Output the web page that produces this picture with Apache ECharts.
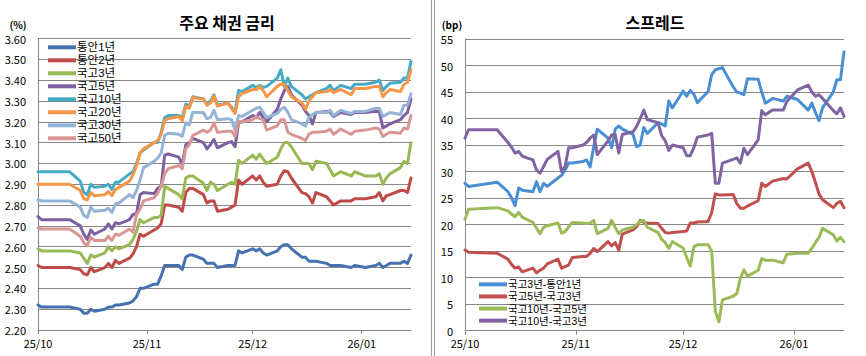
<!DOCTYPE html>
<html>
<head>
<meta charset="utf-8">
<script src="https://cdn.jsdelivr.net/npm/echarts@6/dist/echarts.min.js"></script>
<style>html,body{margin:0;padding:0;background:#fff}#c{width:866px;height:356px}</style>
</head>
<body>
<div id="c"></div>
<script>
// ---- data ----
const dates = ['2025-10-01','2025-10-02','2025-10-10','2025-10-13','2025-10-14','2025-10-15','2025-10-16','2025-10-17','2025-10-20','2025-10-21','2025-10-22','2025-10-23','2025-10-24','2025-10-27','2025-10-28','2025-10-29','2025-10-30','2025-10-31',
'2025-11-03','2025-11-04','2025-11-05','2025-11-06','2025-11-07','2025-11-10','2025-11-11','2025-11-12','2025-11-13','2025-11-14','2025-11-17','2025-11-18','2025-11-19','2025-11-20','2025-11-21','2025-11-24','2025-11-25','2025-11-26','2025-11-27','2025-11-28',
'2025-12-01','2025-12-02','2025-12-03','2025-12-04','2025-12-05','2025-12-08','2025-12-09','2025-12-10','2025-12-11','2025-12-12','2025-12-15','2025-12-16','2025-12-17','2025-12-18','2025-12-19','2025-12-22','2025-12-23','2025-12-24','2025-12-26','2025-12-29','2025-12-30',
'2026-01-02','2026-01-05','2026-01-06','2026-01-07','2026-01-08','2026-01-09','2026-01-12','2026-01-13','2026-01-14','2026-01-15'];

const rateNames = ['통안1년','통안2년','국고3년','국고5년','국고10년','국고20년','국고30년','국고50년'];
const spreadNames = ['국고3년-통안1년','국고5년-국고3년','국고10년-국고5년','국고10년-국고3년'];

const msb1y = [2.32,2.31,2.31,2.30,2.28,2.28,2.30,2.29,2.30,2.31,2.31,2.32,2.32,2.33,2.34,2.36,2.40,2.40,
2.42,2.42,2.46,2.51,2.51,2.51,2.49,2.55,2.56,2.56,2.54,2.52,2.52,2.52,2.50,2.51,2.51,2.51,2.58,2.57,
2.59,2.58,2.59,2.57,2.56,2.58,2.60,2.61,2.61,2.59,2.55,2.55,2.53,2.53,2.53,2.52,2.51,2.51,2.51,2.50,2.51,
2.50,2.51,2.52,2.50,2.51,2.52,2.52,2.53,2.52,2.56];
const msb2y = [2.51,2.50,2.50,2.49,2.47,2.465,2.50,2.48,2.50,2.52,2.50,2.535,2.52,2.545,2.565,2.60,2.66,2.65,
2.68,2.69,2.71,2.80,2.80,2.79,2.77,2.86,2.88,2.88,2.85,2.81,2.82,2.82,2.77,2.78,2.79,2.80,2.92,2.90,
2.94,2.92,2.94,2.91,2.89,2.90,2.94,2.965,2.96,2.93,2.86,2.855,2.84,2.81,2.86,2.84,2.82,2.80,2.82,2.82,2.83,
2.83,2.84,2.86,2.82,2.845,2.85,2.87,2.87,2.86,2.93];
const ktb3y = [2.59,2.58,2.58,2.57,2.545,2.52,2.56,2.55,2.57,2.60,2.58,2.60,2.59,2.61,2.635,2.675,2.73,2.715,
2.74,2.74,2.75,2.89,2.88,2.85,2.83,2.93,2.94,2.94,2.905,2.87,2.91,2.90,2.87,2.90,2.91,2.90,3.015,3.00,
3.04,3.02,3.045,3.02,3.00,3.03,3.07,3.10,3.10,3.08,3.00,3.00,3.00,2.97,3.01,3.00,2.97,2.94,2.96,2.94,2.96,
2.94,2.94,2.95,2.90,2.93,2.95,2.98,3.01,3.00,3.10];
const ktb5y = [2.745,2.73,2.73,2.70,2.66,2.635,2.68,2.66,2.685,2.71,2.685,2.715,2.71,2.73,2.755,2.76,2.85,2.86,
2.855,2.88,2.89,3.04,3.045,3.03,2.995,3.09,3.10,3.12,3.10,3.07,3.09,3.115,3.075,3.10,3.105,3.08,3.195,3.20,
3.23,3.22,3.245,3.22,3.20,3.26,3.31,3.35,3.37,3.33,3.28,3.25,3.23,3.19,3.245,3.25,3.245,3.225,3.245,3.235,3.245,
3.245,3.25,3.25,3.17,3.18,3.19,3.21,3.23,3.245,3.31];
const ktb10y = [2.96,2.96,2.96,2.915,2.86,2.85,2.90,2.885,2.89,2.90,2.875,2.91,2.91,2.95,2.96,3.00,3.05,3.065,
3.10,3.10,3.15,3.22,3.23,3.23,3.22,3.285,3.275,3.32,3.31,3.285,3.30,3.33,3.28,3.29,3.27,3.245,3.35,3.345,
3.375,3.365,3.375,3.365,3.37,3.41,3.45,3.37,3.41,3.37,3.33,3.31,3.32,3.33,3.34,3.36,3.375,3.35,3.375,3.36,3.38,
3.38,3.39,3.40,3.35,3.37,3.385,3.39,3.41,3.41,3.49];
const ktb20y = [2.90,2.90,2.90,2.87,2.83,2.825,2.86,2.845,2.85,2.865,2.845,2.875,2.885,2.915,2.945,2.99,3.05,3.07,
3.10,3.11,3.14,3.205,3.215,3.225,3.205,3.275,3.265,3.315,3.31,3.28,3.29,3.325,3.275,3.29,3.265,3.24,3.32,3.335,
3.355,3.355,3.37,3.35,3.32,3.37,3.38,3.38,3.35,3.32,3.29,3.26,3.30,3.32,3.34,3.345,3.355,3.34,3.355,3.33,3.36,
3.36,3.37,3.37,3.32,3.34,3.355,3.345,3.38,3.39,3.45];
const ktb30y = [2.825,2.82,2.82,2.79,2.75,2.74,2.79,2.77,2.775,2.785,2.765,2.805,2.81,2.85,2.835,2.87,2.92,2.98,
3.01,3.025,3.05,3.135,3.145,3.14,3.13,3.195,3.185,3.245,3.245,3.215,3.22,3.255,3.21,3.215,3.21,3.16,3.23,3.225,
3.255,3.265,3.27,3.245,3.22,3.24,3.26,3.27,3.245,3.21,3.19,3.18,3.22,3.235,3.245,3.245,3.255,3.23,3.255,3.24,3.25,
3.25,3.265,3.265,3.225,3.235,3.245,3.235,3.28,3.28,3.335];
const ktb50y = [2.69,2.685,2.685,2.65,2.62,2.605,2.645,2.63,2.63,2.65,2.63,2.66,2.655,2.685,2.67,2.755,2.78,2.82,
2.835,2.856,2.89,2.95,2.975,2.99,2.975,3.07,3.09,3.135,3.16,3.15,3.16,3.195,3.15,3.155,3.155,3.13,3.20,3.20,
3.21,3.225,3.215,3.21,3.16,3.18,3.21,3.21,3.15,3.14,3.12,3.11,3.14,3.15,3.15,3.155,3.165,3.14,3.165,3.14,3.155,
3.16,3.17,3.165,3.13,3.14,3.15,3.145,3.17,3.165,3.23];

const sp3y1y = [27.8,27.2,28.0,26.2,25.1,23.6,26.9,26.5,26.2,28.1,26.2,27.8,27.2,28.8,29.3,30.3,31.6,31.6,
31.9,32.2,30.9,34.7,38.0,36.3,34.5,38.0,38.6,38.0,37.0,34.7,35.0,38.3,37.2,39.2,39.0,38.6,43.3,42.0,
45.2,44.2,45.3,44.6,43.0,45.1,48.3,49.2,49.4,49.6,46.0,45.0,44.8,44.5,47.5,47.4,45.0,42.9,43.8,43.3,44.2,
43.6,41.6,42.9,41.2,39.6,42.0,45.0,47.3,47.3,52.6];
const sp5y3y = [15.2,14.8,14.6,13.5,12.5,11.8,12.0,11.1,11.8,10.9,11.4,11.8,12.6,13.5,11.8,12.1,12.4,13.8,
14.0,14.0,14.6,15.5,14.9,16.8,16.0,16.6,15.2,18.2,19.0,19.6,20.8,20.4,20.3,20.2,19.3,18.5,18.4,18.5,
18.7,18.8,20.3,20.3,20.5,20.6,22.3,25.8,25.6,25.6,25.7,24.0,23.1,23.1,23.5,24.5,27.8,27.2,28.2,28.7,28.6,
30.5,31.6,30.0,28.0,25.8,24.7,23.2,24.0,24.4,23.2];
const sp10y5y = [21.0,22.9,23.2,22.6,22.0,21.5,22.3,21.4,20.4,19.3,18.3,19.5,19.8,20.3,18.4,18.7,19.6,20.4,
20.3,20.2,20.3,20.8,18.3,19.3,20.8,19.5,18.3,19.0,19.5,20.0,20.6,20.8,19.5,18.5,17.2,16.6,15.5,16.8,
15.6,13.8,12.2,15.8,16.2,16.2,15.0,3.7,1.7,5.8,6.5,7.0,9.8,11.5,10.3,11.4,13.6,13.3,13.3,12.8,14.4,
14.6,14.6,15.5,16.6,17.6,19.3,18.1,16.9,17.6,16.8];
const sp10y3y = [36.3,37.9,37.9,35.5,34.6,33.5,33.8,32.9,32.2,30.3,29.7,31.0,32.3,33.8,30.0,31.0,34.5,34.5,
35.0,35.5,36.3,36.9,33.2,35.8,36.9,37.0,33.5,37.0,37.5,38.5,40.0,41.6,39.8,39.2,36.8,35.8,34.0,35.0,
34.5,33.0,33.0,34.5,36.5,36.9,37.2,27.8,27.8,31.6,32.3,32.6,31.6,34.4,33.2,36.0,41.5,40.7,41.6,41.6,43.2,
45.4,46.3,45.0,44.2,44.5,43.8,41.5,40.9,42.0,40.4];

const rateTicks = {min: 2.2, max: 3.6, step: 0.1};
const spreadTicks = {min: 0, max: 55, step: 5};

// ---- styling ----
const FONT = '"Noto Sans CJK KR","Noto Sans",sans-serif';
const LEGFONT = '"Liberation Sans","Noto Sans CJK KR",sans-serif';
const GRIDC = '#868686';
const rateColors = ['#4673B0','#BE4B48','#98B954','#7D60A0','#46AAC5','#F79646','#95B3D7','#D99694'];
const spreadColors = ['#4A8FD4','#C0504D','#9BBB59','#8064A2'];

const rateData = [msb1y, msb2y, ktb3y, ktb5y, ktb10y, ktb20y, ktb30y, ktb50y];
const spreadData = [sp3y1y, sp5y3y, sp10y5y, sp10y3y];

function pairs(arr){ return dates.map((d,i)=>[d, arr[i]]); }
function fmtMonth(v){
  const d = new Date(v);
  return String(d.getFullYear()%100).padStart(2,'0') + '/' + String(d.getMonth()+1).padStart(2,'0');
}
function xAxisCfg(gi){
  return {
    type:'time', gridIndex:gi, min:'2025-10-01', max:'2026-01-15',
    splitNumber:4, minInterval:28*86400000,
    axisLine:{show:true, lineStyle:{color:GRIDC, width:1}},
    axisTick:{show:true, length:4, lineStyle:{color:GRIDC}},
    splitLine:{show:false},
    axisLabel:{color:'#000', fontSize:11, fontFamily:FONT, margin:7, formatter:fmtMonth, showMaxLabel:false}
  };
}
function yAxisCfg(gi, t, dec){
  return {
    type:'value', gridIndex:gi, min:t.min, max:t.max, interval:t.step,
    axisLine:{show:true, lineStyle:{color:GRIDC, width:1}},
    axisTick:{show:false},
    splitLine:{show:true, lineStyle:{color:GRIDC, width:1}},
    axisLabel:{color:'#000', fontSize:11, fontFamily:FONT, margin:12, formatter:v=>v.toFixed(dec)}
  };
}

const series = [];
rateNames.forEach((n,i)=>series.push({
  name:n, type:'line', xAxisIndex:0, yAxisIndex:0, data:pairs(rateData[i]),
  symbol:'none', showSymbol:false, lineStyle:{width:3, color:rateColors[i], join:'round', cap:'round'}, itemStyle:{color:rateColors[i]}
}));
spreadNames.forEach((n,i)=>series.push({
  name:n, type:'line', xAxisIndex:1, yAxisIndex:1, data:pairs(spreadData[i]),
  symbol:'none', showSymbol:false, lineStyle:{width:3, color:spreadColors[i], join:'round', cap:'round'}, itemStyle:{color:spreadColors[i]}
}));

const chart = echarts.init(document.getElementById('c'), null, {renderer:'svg'});
chart.setOption({
  animation:false,
  backgroundColor:'#fff',
  title:[
    {text:'주요 채권 금리', left:222, top:9, textAlign:'center', textStyle:{fontSize:16, fontWeight:'bold', fontFamily:FONT, color:'#000'}},
    {text:'스프레드', left:650, top:9, textAlign:'center', textStyle:{fontSize:16, fontWeight:'bold', fontFamily:FONT, color:'#000'}}
  ],
  grid:[
    {left:38, top:38.5, width:373, height:291.5},
    {left:465, top:39, width:379, height:291.7}
  ],
  xAxis:[xAxisCfg(0), xAxisCfg(1)],
  yAxis:[yAxisCfg(0, rateTicks, 2), yAxisCfg(1, spreadTicks, 0)],
  legend:[
    {data:rateNames, orient:'vertical', left:48, top:41, padding:0, itemWidth:28, itemHeight:4, itemGap:0.4, icon:'rect',
     textStyle:{fontSize:11.5, lineHeight:12.6, fontFamily:LEGFONT, color:'#000', padding:[0,0,0,-4]}},
    {data:spreadNames, orient:'vertical', left:479, top:278.5, padding:0, itemWidth:28, itemHeight:4, itemGap:0.4, icon:'rect',
     textStyle:{fontSize:10.5, lineHeight:11.7, fontFamily:LEGFONT, color:'#000', padding:[0,0,0,-4]}}
  ],
  graphic:[
    {type:'text', x:18, y:24, style:{text:'(%)', align:'center', verticalAlign:'middle', fontSize:10, fontWeight:'bold', fontFamily:FONT, fill:'#000'}},
    {type:'text', x:452, y:24, style:{text:'(bp)', align:'center', verticalAlign:'middle', fontSize:10, fontWeight:'bold', fontFamily:FONT, fill:'#000'}},
    {type:'line', shape:{x1:431.5, y1:0, x2:431.5, y2:356}, style:{stroke:'#9a9a9a', lineWidth:1}},
    {type:'line', shape:{x1:434.5, y1:0, x2:434.5, y2:356}, style:{stroke:'#9a9a9a', lineWidth:1}}
  ],
  series:series
});
</script>
</body>
</html>
